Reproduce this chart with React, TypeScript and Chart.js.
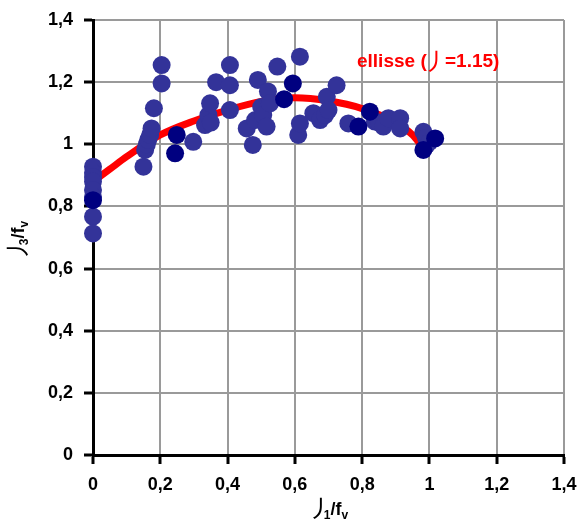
import React, { useEffect, useRef } from "react";
import { Chart, registerables } from "chart.js";

Chart.register(...registerables);

// Slate-blue points (σ1/fv, σ3/fv)
const slateX = [0, 0, 0, 0, 0, 0, 0, 0,
  0.15, 0.155, 0.16, 0.164, 0.17, 0.174, 0.181, 0.204, 0.204,
  0.298, 0.333, 0.343, 0.348, 0.35, 0.366, 0.407, 0.407, 0.407,
  0.457, 0.475, 0.482, 0.49, 0.5, 0.506, 0.516, 0.52, 0.526, 0.548,
  0.61, 0.615, 0.615, 0.655, 0.675, 0.69, 0.695, 0.70, 0.724,
  0.759, 0.838, 0.85, 0.863, 0.878, 0.913, 0.913,
  0.982, 0.99, 0.992, 1.0];
const slateY = [0.928, 0.908, 0.895, 0.88, 0.853, 0.831, 0.767, 0.713,
  0.928, 0.982, 1.0, 1.014, 1.03, 1.051, 1.116, 1.196, 1.255,
  1.008, 1.062, 1.094, 1.132, 1.07, 1.2, 1.255, 1.19, 1.11,
  1.051, 0.998, 1.078, 1.207, 1.12, 1.094, 1.057, 1.17, 1.132, 1.25,
  1.03, 1.067, 1.282, 1.10, 1.078, 1.094, 1.153, 1.11, 1.19,
  1.067, 1.073, 1.07, 1.057, 1.084, 1.084, 1.051,
  1.04, 1.02, 0.998, 1.008];

// Navy points
const navyX = [0, 0.244, 0.249, 0.568, 0.594, 0.789, 0.823, 0.982, 1.017];
const navyY = [0.82, 0.971, 1.03, 1.145, 1.196, 1.057, 1.105, 0.982, 1.019];

// Ellipse curve
const ellX = [0, 0.05, 0.1, 0.2, 0.3, 0.4, 0.5, 0.6, 0.7, 0.8, 0.9, 0.95, 0.98];
const ellY = [0.88, 0.92, 0.96, 1.03, 1.075, 1.11, 1.138, 1.15, 1.14, 1.115, 1.07, 1.03, 0.99];

const xTicks = [0, 0.2, 0.4, 0.6, 0.8, 1, 1.2, 1.4];
const yTicks = [0, 0.2, 0.4, 0.6, 0.8, 1, 1.2, 1.4];

const toPts = (xs: number[], ys: number[]) => xs.map((x, i) => ({ x, y: ys[i] }));
const fmt = (v: number) => String(Number(v.toFixed(1))).replace(".", ",");

const FAM = "'Liberation Sans', Arial, sans-serif";
const SIG = "24px 'Noto Sans CJK JP', sans-serif";

type Part = { t: string; f: string; dy: number; ink?: number };

function drawRich(ctx: CanvasRenderingContext2D, parts: Part[], x: number, y: number, color: string, align: "left" | "center") {
  ctx.save();
  ctx.fillStyle = color;
  ctx.textBaseline = "alphabetic";
  ctx.textAlign = "left";
  let total = 0;
  const info = parts.map((p) => {
    ctx.font = p.f;
    const m = ctx.measureText(p.t);
    let w = m.width;
    let off = 0;
    if (p.ink !== undefined) {
      const l = m.actualBoundingBoxLeft;
      const r = m.actualBoundingBoxRight;
      w = l + r + p.ink * 2;
      off = p.ink + l;
    }
    total += w;
    return { w, off };
  });
  let cx = align === "center" ? x - total / 2 : x;
  parts.forEach((p, i) => {
    ctx.font = p.f;
    ctx.fillText(p.t, cx + info[i].off, y + p.dy);
    cx += info[i].w;
  });
  ctx.restore();
}

const textPlugin = {
  id: "textPlugin",
  afterDraw(chart: any) {
    const ctx: CanvasRenderingContext2D = chart.ctx;
    const B19 = `bold 19px ${FAM}`;
    drawRich(ctx, [
      { t: "ellisse (", f: B19, dy: 0 },
      { t: "丿", f: SIG, dy: 3, ink: 1.5 },
      { t: " =1.15)", f: B19, dy: 0 },
    ], 357, 67, "#ff0000", "left");
    const B18 = `bold 18px ${FAM}`;
    const S12 = `bold 12px ${FAM}`;
    drawRich(ctx, [
      { t: "丿", f: SIG, dy: 2, ink: 1 },
      { t: "1", f: S12, dy: 4 },
      { t: "/f", f: B18, dy: 0 },
      { t: "v", f: S12, dy: 4 },
    ], 330, 515, "#000", "center");
    ctx.save();
    ctx.translate(24, 239);
    ctx.rotate(-Math.PI / 2);
    drawRich(ctx, [
      { t: "丿", f: SIG, dy: 2, ink: 1 },
      { t: "3", f: S12, dy: 4 },
      { t: "/f", f: B18, dy: 0 },
      { t: "v", f: S12, dy: 4 },
    ], 0, 0, "#000", "center");
    ctx.restore();
  },
};

export default function App() {
  const ref = useRef<HTMLCanvasElement | null>(null);
  useEffect(() => {
    if (!ref.current) return;
    const axis = (ticks: number[], isX: boolean) => ({
      type: "linear" as const,
      min: 0,
      max: 1.4,
      afterBuildTicks: (s: any) => { s.ticks = ticks.map((v) => ({ value: v })); },
      afterFit: (s: any) => {
        if (isX) s.height = 70; else s.width = 93;
        s.paddingLeft = 0; s.paddingRight = 0; s.paddingTop = 0; s.paddingBottom = 0;
      },
      ticks: {
        callback: (v: any) => fmt(Number(v)),
        color: "#000",
        font: { family: FAM, size: 18, weight: "bold" as const },
        padding: isX ? 10 : 11,
      },
      grid: {
        color: "#9a9a9a",
        lineWidth: 2,
        tickColor: "#000",
        tickLength: 9,
        tickWidth: 3,
      },
      border: { color: "#000", width: 3 },
    });
    const chart = new Chart(ref.current, {
      type: "scatter",
      data: {
        datasets: [
          {
            type: "line",
            data: toPts(ellX, ellY),
            borderColor: "#ff0000",
            borderWidth: 7,
            pointRadius: 0,
            tension: 0.4,
            cubicInterpolationMode: "monotone",
            fill: false,
            order: 3,
          } as any,
          {
            data: toPts(slateX, slateY),
            backgroundColor: "#333399",
            borderColor: "#333399",
            borderWidth: 0,
            pointRadius: 9,
            clip: false,
            order: 2,
          },
          {
            data: toPts(navyX, navyY),
            backgroundColor: "#000080",
            borderColor: "#000080",
            borderWidth: 0,
            pointRadius: 9,
            clip: false,
            order: 1,
          },
        ],
      },
      options: {
        responsive: false,
        animation: false,
        devicePixelRatio: 1,
        layout: { padding: { top: 20, right: 16, left: 0, bottom: 0 } },
        plugins: { legend: { display: false }, tooltip: { enabled: false } },
        scales: { x: axis(xTicks, true), y: axis(yTicks, false) },
      },
      plugins: [textPlugin],
    });
    return () => chart.destroy();
  }, []);
  return (
    <div style={{ position: "absolute", left: 0, top: 0, width: 580, height: 525, background: "#fff" }}>
      <canvas ref={ref} width={580} height={525} style={{ width: 580, height: 525 }} />
    </div>
  );
}
